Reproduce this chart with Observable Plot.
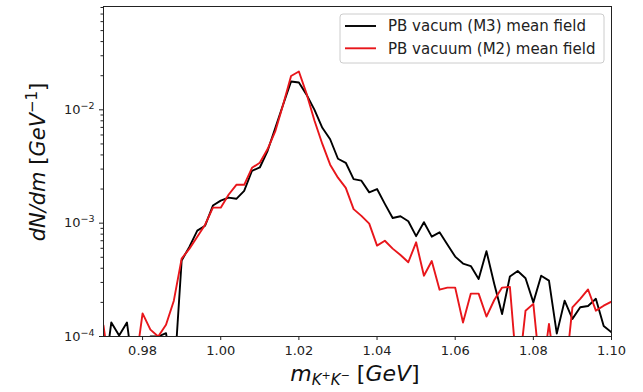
<!DOCTYPE html>
<html><head><meta charset="utf-8">
<script src="https://cdn.jsdelivr.net/npm/d3@7"></script>
<script src="https://cdn.jsdelivr.net/npm/@observablehq/plot@0.6"></script>
<style>
body{margin:0;background:#fff;}
#chart{width:643px;height:392px;}
</style></head><body><div id="chart"></div>
<script>
// bin centres (GeV)
const mass = [0.970,0.972,0.974,0.976,0.978,0.980,0.982,0.984,0.986,0.988,
  0.990,0.992,0.994,0.996,0.998,1.000,1.002,1.004,1.006,1.008,
  1.010,1.012,1.014,1.016,1.018,1.020,1.022,1.024,1.026,1.028,
  1.030,1.032,1.034,1.036,1.038,1.040,1.042,1.044,1.046,1.048,
  1.050,1.052,1.054,1.056,1.058,1.060,1.062,1.064,1.066,1.068,
  1.070,1.072,1.074,1.076,1.078,1.080,1.082,1.084,1.086,1.088,
  1.090,1.092,1.094,1.096,1.098,1.100];
// PB vacum (M3) mean field (black)
const m3 = [4e-5,1.33e-4,1.02e-4,1.33e-4,4e-5,4e-5,1.0e-4,1.0e-4,1.07e-4,4e-5,
  4.68e-4,6.2e-4,8.6e-4,9.5e-4,1.43e-3,1.58e-3,1.68e-3,1.64e-3,1.93e-3,2.90e-3,
  3.10e-3,4.35e-3,6.98e-3,1.12e-2,1.78e-2,1.74e-2,1.355e-2,1.0e-2,6.94e-3,5.5e-3,
  3.70e-3,3.41e-3,2.45e-3,2.37e-3,1.87e-3,2.00e-3,1.48e-3,1.11e-3,1.15e-3,1.04e-3,
  7.68e-4,1.02e-3,7.6e-4,8.3e-4,6.47e-4,5.07e-4,4.40e-4,4.18e-4,3.22e-4,5.66e-4,
  2.91e-4,1.58e-4,3.38e-4,3.78e-4,3.27e-4,2.00e-4,3.44e-4,3.11e-4,1.06e-4,2.07e-4,
  1.43e-4,1.81e-4,1.86e-4,2.15e-4,1.24e-4,1.09e-4];
// PB vacuum (M2) mean field (red)
const m2 = [1.25e-4,4e-5,4e-5,4e-5,5e-5,1.6e-4,1.15e-4,1.0e-4,1.27e-4,2.07e-4,
  4.87e-4,5.96e-4,7.6e-4,9.7e-4,1.37e-3,1.37e-3,1.78e-3,2.18e-3,2.18e-3,3.08e-3,
  3.41e-3,4.51e-3,6.53e-3,1.12e-2,1.99e-2,2.18e-2,1.375e-2,8.0e-3,5.0e-3,3.28e-3,
  2.52e-3,2.05e-3,1.33e-3,1.16e-3,9.9e-4,6.34e-4,7.0e-4,5.96e-4,5.23e-4,4.52e-4,
  6.78e-4,3.44e-4,4.63e-4,2.59e-4,2.70e-4,2.70e-4,1.33e-4,2.39e-4,2.39e-4,1.50e-4,
  2.1e-4,2.7e-4,2.74e-4,4e-5,1.69e-4,1.94e-4,4e-5,1.29e-4,4e-5,4e-5,
  1.81e-4,2.15e-4,2.6e-4,1.69e-4,1.87e-4,2.03e-4];
const seriesNames = ["PB vacum (M3) mean field", "PB vacuum (M2) mean field"];
const seriesColors = ["#000000", "#e8161b"];
const xTicks = [0.98,1.00,1.02,1.04,1.06,1.08,1.10];
const yMajor = [1e-4,1e-3,1e-2];
const yMinor = [2e-4,3e-4,4e-4,5e-4,6e-4,7e-4,8e-4,9e-4,2e-3,3e-3,4e-3,5e-3,6e-3,7e-3,8e-3,9e-3,2e-2,3e-2,4e-2,5e-2,6e-2,7e-2,8e-2];

const seriesValues = [m3, m2];
const data = seriesValues.flatMap((vals, s) => mass.map((m, i) => ({m, v: vals[i], s: seriesNames[s]})));

const powFmt = d => "10^" + Math.round(Math.log10(d));

const chart = Plot.plot({
  width: 643, height: 392,
  marginLeft: 103, marginRight: 32, marginTop: 6, marginBottom: 56,
  style: {fontFamily: "DejaVu Sans", fontSize: "13px", color: "#222", background: "white"},
  x: {domain: [0.97, 1.10]},
  y: {type: "log", domain: [1e-4, 0.0816]},
  color: {domain: seriesNames, range: seriesColors},
  marks: [
    Plot.line(data, {x: "m", y: "v", z: "s", stroke: "s", strokeWidth: 1.9, clip: true}),
    Plot.axisX({ticks: xTicks, tickFormat: d => d.toFixed(2), tickSize: 4, tickPadding: 5, label: null}),
    Plot.axisY({ticks: yMinor, tickFormat: () => "", tickSize: 2.5, label: null}),
    Plot.axisY({ticks: yMajor, tickFormat: powFmt, tickSize: 4, tickPadding: 5, label: null}),
    Plot.frame({stroke: "#222", strokeWidth: 1})
  ]
});
document.getElementById("chart").appendChild(chart);

const svg = d3.select(chart);
// render power-of-ten tick labels with a real superscript
svg.selectAll("text").each(function() {
  const t = d3.select(this);
  const s = t.text();
  const mm = /^10\^(-?\d+)$/.exec(s);
  if (!mm) return;
  t.text("");
  t.append("tspan").text("10");
  t.append("tspan").attr("font-size", 9.5).attr("dy", -5).text(mm[1].replace("-", "\u2212"));
});
// legend
const lg = svg.append("g").attr("font-family", "DejaVu Sans").attr("font-size", 15)
  .attr("fill", "#222").attr("text-anchor", "start");
lg.append("rect").attr("x", 340).attr("y", 14).attr("width", 264).attr("height", 49).attr("rx", 3)
  .attr("fill", "white").attr("fill-opacity", 0.85).attr("stroke", "#cccccc");
seriesNames.forEach((name, i) => {
  const y = 26 + i * 22.3;
  lg.append("line").attr("x1", 345).attr("x2", 376).attr("y1", y).attr("y2", y)
    .attr("stroke", seriesColors[i]).attr("stroke-width", 1.9);
  lg.append("text").attr("x", 388).attr("y", y).attr("dy", "0.35em").text(name);
});
// y label
const yl = svg.append("text").attr("transform", "translate(45,162) rotate(-90)")
  .attr("text-anchor", "middle").attr("font-family", "DejaVu Sans").attr("font-size", 21).attr("fill", "#111");
yl.append("tspan").attr("font-style", "italic").text("dN/dm");
yl.append("tspan").text(" [");
yl.append("tspan").attr("font-style", "italic").text("GeV");
yl.append("tspan").attr("font-size", 15).attr("dy", -8).text("\u22121");
yl.append("tspan").attr("dy", 8).text("]");
// x label
const xl = svg.append("text").attr("x", 355).attr("y", 381)
  .attr("text-anchor", "middle").attr("font-family", "DejaVu Sans").attr("font-size", 22).attr("fill", "#111");
xl.append("tspan").attr("font-style", "italic").text("m");
xl.append("tspan").attr("font-style", "italic").attr("font-size", 15).attr("dy", 4).text("K");
xl.append("tspan").attr("font-size", 11).attr("dy", -6).text("+");
xl.append("tspan").attr("font-style", "italic").attr("font-size", 15).attr("dy", 6).text("K");
xl.append("tspan").attr("font-size", 11).attr("dy", -6).text("\u2212");
xl.append("tspan").attr("dy", 2).text(" [");
xl.append("tspan").attr("font-style", "italic").text("GeV");
xl.append("tspan").text("]");
</script></body></html>
